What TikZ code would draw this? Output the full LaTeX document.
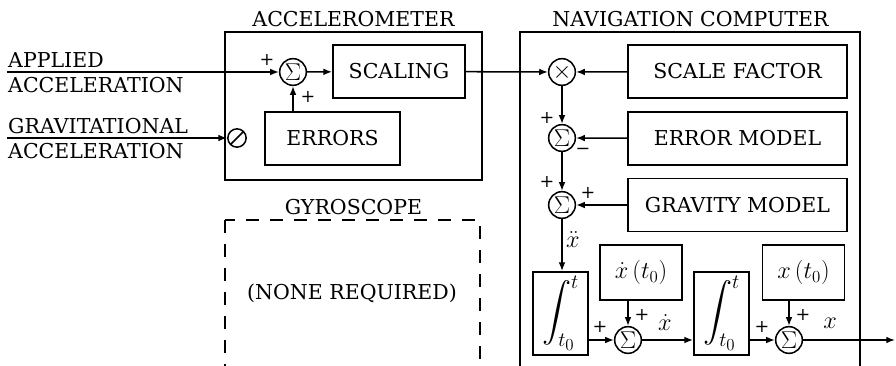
\documentclass[tikz,border=0pt]{standalone}
\usepackage{fontspec}
\setmainfont{DejaVu Serif}
\usepackage{exscale}
\usepackage{tikz}
\usetikzlibrary{positioning, arrows.meta, calc}

\begin{document}
\begin{tikzpicture}[x=0.03cm,y=-0.03cm,
  font=\fontsize{17.5}{21}\selectfont,
  box/.style={draw,line width=1.5pt,minimum height=1.59cm,inner sep=0pt},
  sumnode/.style={draw,circle,line width=1.3pt,minimum size=0.8cm,inner sep=0pt,
                  font=\fontsize{20.74}{24}\selectfont},
  frame/.style={draw,line width=1.5pt},
  sgn/.style={inner sep=0pt,font=\fontsize{15}{18}\selectfont},
  lbl/.style={inner sep=0pt,anchor=base west},
  mth/.style={font=\fontsize{20.74}{24}\selectfont},
  intg/.style={box,minimum width=1.65cm,minimum height=2.49cm,font=\fontsize{27}{30}\selectfont},
  >={Latex[length=0.26cm,width=0.2cm]}]
  \useasboundingbox (0,0) rectangle (896,366);
  \clip (0,0) rectangle (896,366);

  % frames
  \draw[frame] (225,32) rectangle (482,180);
  \draw[frame] (520,32) rectangle (860,390);
  \draw[frame,dash pattern=on 0.4cm off 0.32cm] (225,220) rectangle (480,390);
  \node[anchor=base,inner sep=0pt] (accT) at (353.5,27) {ACCELEROMETER};
  \node[anchor=base,inner sep=0pt] (navT) at (690.5,27) {NAVIGATION COMPUTER};
  \node[anchor=base,inner sep=0pt] (gyrT) at (353.5,214) {GYROSCOPE};
  \node (none) at (352,293) {(NONE REQUIRED)};

  % inputs
  \coordinate (inA) at (7,72);
  \coordinate (inG) at (7,138);
  \node[lbl] (appl) at (8,67) {APPLIED};
  \node[lbl] (accA) at (8,92) {ACCELERATION};
  \node[lbl] (grav) at (8,133) {GRAVITATIONAL};
  \node[lbl] (accG) at (8,158) {ACCELERATION};

  % accelerometer
  \node[sumnode] (S1) at (293,72) {$\Sigma$};
  \node[draw,circle,line width=1.3pt,minimum size=0.55cm,inner sep=0pt,
        path picture={\draw[line width=1.3pt] (path picture bounding box.south west)
          -- (path picture bounding box.north east);}] (blk) at (237,138) {};
  \node[box,minimum width=3.96cm] (scl) at (399,71.5) {SCALING};
  \node[box,minimum width=4.05cm] (err) at (332.5,138.5) {ERRORS};

  % navigation computer
  \node[sumnode] (mul) at (562,72) {$\times$};
  \node[sumnode] (S2) at (562,138) {$\Sigma$};
  \node[sumnode] (S3) at (562,205) {$\Sigma$};
  \node[box,minimum width=6.57cm] (sf) at (737.5,71.5) {SCALE FACTOR};
  \node[box,minimum width=6.57cm] (em) at (737.5,138.5) {ERROR MODEL};
  \node[box,minimum width=6.57cm] (gm) at (737.5,205) {GRAVITY MODEL};
  \node[intg] (int1) at (560.5,313.5) {$\displaystyle\int_{t_0}^{t}$};
  \node[intg] (int2) at (721.5,313.5) {$\displaystyle\int_{t_0}^{t}$};
  \node[box,mth,minimum width=2.46cm,minimum height=1.65cm] (xd0) at (641,272.5) {$\dot x\,(t_0)$};
  \node[box,mth,minimum width=2.46cm,minimum height=1.65cm] (x0) at (803.5,272.5) {$x\,(t_0)$};
  \node[sumnode] (S4) at (628,340) {$\Sigma$};
  \node[sumnode] (S5) at (789,340) {$\Sigma$};
  \coordinate (out) at (895,340);

  % connectors
  \begin{scope}[line width=1.3pt]
    \draw[->] (inA) -- (S1);
    \draw[->] (inG) -- (blk);
    \draw[->] (S1 |- err.north) -- (S1);
    \draw[->] (S1) -- (scl);
    \draw[->] (scl) -- (mul);
    \draw[->] (sf) -- (mul);
    \draw[->] (em) -- (S2);
    \draw[->] (gm) -- (S3);
    \draw[->] (mul) -- (S2);
    \draw[->] (S2) -- (S3);
    \draw[->] (S3) -- (S3 |- int1.north);
    \draw[->] (int1.east |- S4) -- (S4);
    \draw[->] (xd0.south -| S4) -- (S4);
    \draw[->] (S4) -- (int2.west |- S4);
    \draw[->] (int2.east |- S5) -- (S5);
    \draw[->] (x0.south -| S5) -- (S5);
    \draw[->] (S5) -- (out);
  \end{scope}

  % signs
  \node[sgn] (p1) at ($(S1)+(-26,-12)$) {+};
  \node[sgn] (p2) at ($(S1)+(15,25)$) {+};
  \node[sgn] (p3) at ($(S2)+(-15,-20)$) {+};
  \node[sgn] (m3) at ($(S2)+(21,13)$) {−};
  \node[sgn] (p4) at ($(S3)+(-15,-23)$) {+};
  \node[sgn] (p5) at ($(S3)+(26,-12)$) {+};
  \node[sgn] (p6) at ($(S4)+(-28,-13)$) {+};
  \node[sgn] (p7) at ($(S4)+(14,-25)$) {+};
  \node[sgn] (p8) at ($(S5)+(-27,-13)$) {+};
  \node[sgn] (p9) at ($(S5)+(14,-25)$) {+};
  \node[mth,inner sep=0pt] (xdd) at (573,240) {$\ddot x$};
  \node[mth,inner sep=0pt] (xd) at (665,323) {$\dot x$};
  \node[mth,inner sep=0pt] (xx) at (830,323) {$x$};
\end{tikzpicture}
\end{document}
